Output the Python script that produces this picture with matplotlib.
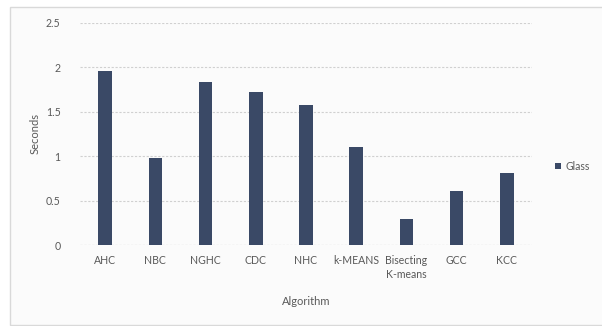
import matplotlib
matplotlib.use("Agg")
import matplotlib.pyplot as plt
from matplotlib.patches import Rectangle
import numpy as np

algorithms = ["AHC", "NBC", "NGHC", "CDC", "NHC", "k-MEANS", "Bisecting\nK-means", "GCC", "KCC"]
glass_seconds = [1.96, 0.98, 1.83, 1.72, 1.58, 1.10, 0.29, 0.61, 0.81]
yticks = [0, 0.5, 1, 1.5, 2, 2.5]
ytick_labels = ["0", "0.5", "1", "1.5", "2", "2.5"]

plt.rcParams['font.family'] = ['Lato', 'DejaVu Sans']
text_col = "#595959"
bar_col = "#3a4966"

fig = plt.figure(figsize=(6.02, 3.26), dpi=100)
fig.patch.set_facecolor("white")
# chart frame, kept behind the axes
frame = Rectangle((10 / 602, 1 / 326), 600 / 602, 318 / 326, transform=fig.transFigure,
                  facecolor="#fbfbfb", edgecolor="#d9d9d9", lw=1.0, zorder=-10)
fig.add_artist(frame)

ax = fig.add_axes([80 / 602, 81 / 326, 452 / 602, 222.3 / 326])
ax.set_facecolor("none")
x = np.arange(len(algorithms))
ax.bar(x, glass_seconds, width=0.27, color=bar_col, label="Glass", zorder=3)

ax.set_xlim(-0.5, len(algorithms) - 0.5)
ax.set_ylim(0, 2.5)
ax.set_yticks(yticks)
ax.set_yticklabels(ytick_labels)
ax.set_xticks(x)
ax.set_xticklabels(algorithms, linespacing=1.4)
ax.tick_params(axis="both", length=0, labelsize=7.6, colors=text_col)
ax.tick_params(axis="y", pad=14)
ax.tick_params(axis="x", pad=7)
ax.yaxis.grid(True, color="#d0d0d0", lw=0.8, ls=(0, (2, 1.5)), zorder=0)
for s in ax.spines.values():
    s.set_visible(False)
ax.axhline(0, color="#cfcfcf", lw=0.8, ls=(0, (2, 1.5)), zorder=1)

ax.set_ylabel("Seconds", fontsize=8, color=text_col, labelpad=4)
ax.set_xlabel("Algorithm", fontsize=8, color=text_col, labelpad=11)

leg = ax.legend(loc="center left", bbox_to_anchor=(1.03, 0.355), frameon=False, fontsize=7.6,
                handlelength=0.6, handleheight=0.6, handletextpad=0.4)
for t in leg.get_texts():
    t.set_color(text_col)

fig.savefig("out.png", dpi=100)
